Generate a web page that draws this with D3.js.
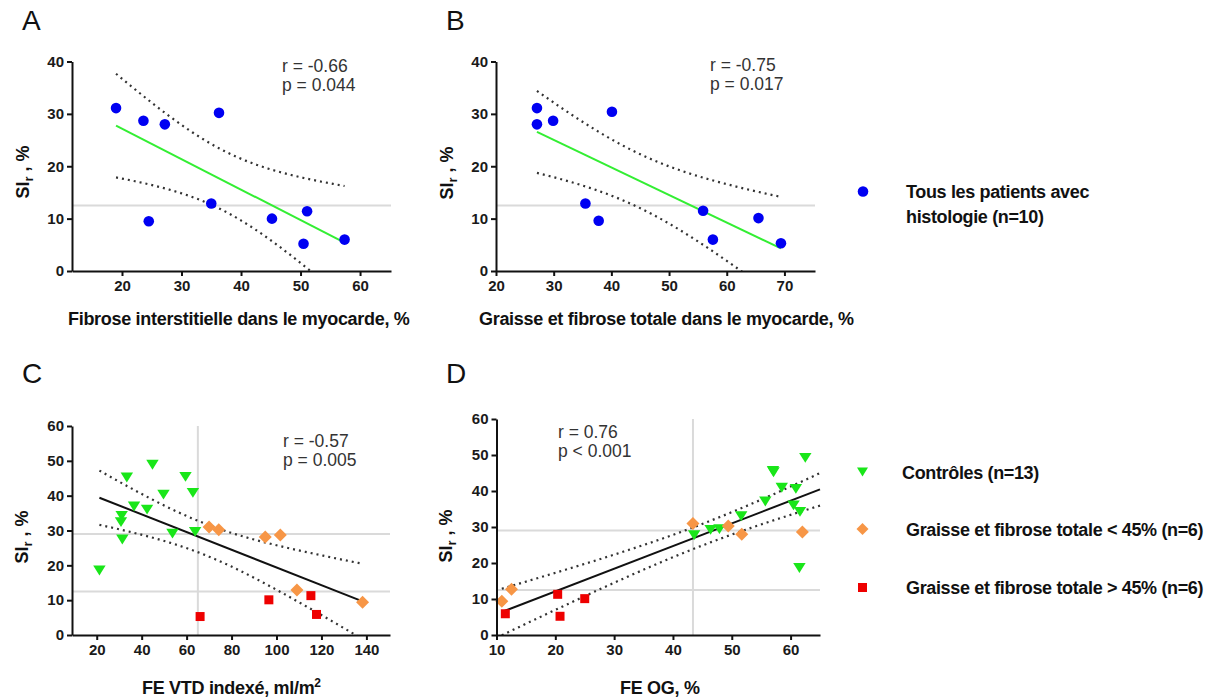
<!DOCTYPE html>
<html><head><meta charset="utf-8">
<script src="https://cdn.jsdelivr.net/npm/d3@7"></script>
<style>
body{margin:0;background:#fff}
svg text{font-family:"Liberation Sans",Arial,Helvetica,sans-serif}
</style>
</head><body>
<svg id="chart" width="1215" height="700"></svg>
<script>
// ---------------- DATA ----------------
// Panel A : fibrose interstitielle vs SIr (patients avec histologie)
const fibroseA = [19.0, 23.6, 27.2, 36.3, 35.0, 24.5, 45.2, 51.1, 50.5, 57.4];
const siA      = [31.1, 28.7, 28.0, 30.2, 12.9, 9.5, 10.0, 11.4, 5.2, 6.0];
// Panel B : graisse et fibrose totale vs SIr
const graisseB = [27.1, 29.9, 27.1, 40.1, 35.5, 37.8, 65.5, 55.9, 69.4, 57.6];
const siB      = [31.1, 28.7, 28.0, 30.4, 12.9, 9.6, 10.1, 11.5, 5.3, 6.0];
// Panel C : FE VTD indexé vs SIr
const ctrlVTD  = [21.2, 33.4, 44.8, 49.7, 36.6, 42.4, 31.1, 30.8, 31.4, 53.7, 59.5, 62.8, 63.8];
const ctrlSiC  = [18.5, 45.2, 48.9, 40.3, 36.9, 36.0, 34.2, 32.4, 27.4, 29.1, 45.4, 40.8, 29.6];
const lowVTD   = [70.0, 74.3, 95.0, 101.7, 109.1, 138.3];
const lowSiC   = [31.0, 30.2, 28.1, 28.7, 12.9, 9.4];
const highVTD  = [66.0, 96.6, 115.3, 117.8];
const highSiC  = [5.3, 10.1, 11.3, 5.9];
// Panel D : FE OG vs SIr
const ctrlOG   = [62.5, 57.0, 57.1, 58.5, 60.9, 55.7, 60.5, 61.6, 51.6, 46.4, 47.9, 43.6, 61.5];
const ctrlSiD  = [49.2, 45.6, 45.2, 40.9, 40.6, 37.1, 36.0, 34.2, 33.0, 29.2, 29.4, 27.7, 18.6];
const lowOG    = [10.9, 12.55, 43.4, 49.4, 51.7, 62.0];
const lowSiD   = [9.4, 12.7, 31.0, 30.3, 28.0, 28.6];
const highOG   = [11.5, 20.4, 20.8, 25.0];
const highSiD  = [5.9, 11.3, 5.2, 10.1];
// reference lines
const refSiA = [12.5];
const refSiC = [12.5, 29];
const refXC = [65];
const refXD = [43.4];
// tick values
const ticksYAB = [0, 10, 20, 30, 40];
const ticksYCD = [0, 10, 20, 30, 40, 50, 60];
const ticksXA = [20, 30, 40, 50, 60];
const ticksXB = [20, 30, 40, 50, 60, 70];
const ticksXC = [20, 40, 60, 80, 100, 120, 140];
const ticksXD = [10, 20, 30, 40, 50, 60];
// texts
const statsA = ["r = -0.66", "p = 0.044"];
const statsB = ["r = -0.75", "p = 0.017"];
const statsC = ["r = -0.57", "p = 0.005"];
const statsD = ["r = 0.76", "p < 0.001"];
const xTitles = ["Fibrose interstitielle dans le myocarde, %", "Graisse et fibrose totale dans le myocarde, %", "FE VTD indexé, ml/m", "FE OG, %"];
const legend1 = ["Tous les patients avec", "histologie (n=10)"];
const legend2 = ["Contrôles (n=13)", "Graisse et fibrose totale < 45% (n=6)", "Graisse et fibrose totale > 45% (n=6)"];

// ---------------- HELPERS ----------------
const svg = d3.select("#chart");
const COL = {blue:"#0000f2", green:"#19e619", orange:"#f79646", red:"#ee0000", fitGreen:"#33ee33"};
const tTable = {8:2.306, 9:2.262, 19:2.093, 20:2.086, 21:2.080, 22:2.074, 23:2.069};

function zip(xs, ys){ return xs.map((x,i)=>({x, y:ys[i]})); }
function fit(pts){
  const n = pts.length, mx = d3.mean(pts,d=>d.x), my = d3.mean(pts,d=>d.y);
  let sxx=0, sxy=0, syy=0;
  pts.forEach(p=>{ sxx+=(p.x-mx)**2; sxy+=(p.x-mx)*(p.y-my); syy+=(p.y-my)**2; });
  const b = sxy/sxx, a = my-b*mx;
  const s = Math.sqrt((syy-b*sxy)/(n-2));
  const t = tTable[n-2] || 2.0;
  return {a,b,s,n,mx,sxx,t};
}
const sym = {
  tri: r => `M${-r},${-r*0.8}L${r},${-r*0.8}L0,${r*0.8}Z`,
  dia: r => `M0,${-r}L${r},0L0,${r}L${-r},0Z`,
  sq:  r => `M${-r},${-r}L${r},${-r}L${r},${r}L${-r},${r}Z`
};

function panel(cfg){
  const g = svg.append("g");
  const x = d3.scaleLinear().domain(cfg.xDom).range(cfg.xR);
  const y = d3.scaleLinear().domain(cfg.yDom).range(cfg.yR);
  const clipId = "clip"+cfg.id;
  svg.append("clipPath").attr("id",clipId).append("rect")
     .attr("x",cfg.xR[0]).attr("y",cfg.yR[1]-4).attr("width",cfg.xR[1]-cfg.xR[0]+4).attr("height",cfg.yR[0]-cfg.yR[1]+4);
  // reference lines
  (cfg.refY||[]).forEach(v=>g.append("line").attr("x1",cfg.xR[0]).attr("x2",cfg.xR[1])
      .attr("y1",y(v)).attr("y2",y(v)).attr("stroke","#dadada").attr("stroke-width",2));
  (cfg.refX||[]).forEach(v=>g.append("line").attr("x1",x(v)).attr("x2",x(v))
      .attr("y1",cfg.yR[1]).attr("y2",cfg.yR[0]).attr("stroke","#dadada").attr("stroke-width",2));
  // regression + CI
  const all = [].concat(...cfg.groups.map(gr=>gr.pts));
  const f = fit(all);
  const x0 = d3.min(all,d=>d.x), x1 = cfg.lineToEnd ? cfg.xDom[1] : d3.max(all,d=>d.x);
  const xs = d3.range(0,61).map(i=>x0+(x1-x0)*i/60);
  const band = sgn => xs.map(v=>{
    const yh=f.a+f.b*v, h=f.t*f.s*Math.sqrt(1/f.n+(v-f.mx)**2/f.sxx);
    return [x(v), y(yh+sgn*h)];
  });
  const lg = g.append("g").attr("clip-path",`url(#${clipId})`);
  [1,-1].forEach(sg=>lg.append("path").attr("d",d3.line()(band(sg))).attr("fill","none")
      .attr("stroke","#333").attr("stroke-width",2.2).attr("stroke-dasharray","2,4"));
  lg.append("path").attr("d",d3.line()([[x(x0),y(f.a+f.b*x0)],[x(x1),y(f.a+f.b*x1)]]))
    .attr("stroke",cfg.fitColor).attr("stroke-width",2).attr("fill","none");
  // points
  cfg.groups.forEach(gr=>{
    g.append("g").selectAll("path").data(gr.pts).join("path")
     .attr("transform",d=>`translate(${x(d.x)},${y(d.y)})`)
     .attr("d", gr.shape==="circle" ? d3.symbol(d3.symbolCircle, Math.PI*5.3*5.3)() : sym[gr.shape](gr.r))
     .attr("fill",gr.color);
  });
  // axes
  const ax = g.append("g").attr("transform",`translate(0,${cfg.yR[0]})`)
     .call(d3.axisBottom(x).tickValues(cfg.xTicks).tickSize(5).tickSizeOuter(0).tickPadding(4));
  const ay = g.append("g").attr("transform",`translate(${cfg.xR[0]},0)`)
     .call(d3.axisLeft(y).tickValues(cfg.yTicks).tickSize(5).tickSizeOuter(0).tickPadding(3));
  [ax,ay].forEach(a=>{
    a.selectAll("path.domain").attr("stroke","#111").attr("stroke-width",2);
    a.selectAll(".tick line").attr("stroke","#111").attr("stroke-width",2);
    a.selectAll("text").attr("font-family","Liberation Sans, Arial, sans-serif")
      .attr("font-size",15).attr("font-weight","bold").attr("fill","#1a1a1a");
  });
  // stats text
  cfg.stats.forEach((s,i)=>g.append("text").attr("x",cfg.statPos[0]).attr("y",cfg.statPos[1]+i*18.5)
     .attr("font-size",17.5).attr("fill","#333").text(s));
  // panel letter
  g.append("text").attr("x",cfg.letterPos[0]).attr("y",cfg.letterPos[1]).attr("font-size",28)
     .attr("fill","#111").text(cfg.id);
  // x title
  const xt = g.append("text").attr("x",cfg.xTitlePos[0]).attr("y",cfg.xTitlePos[1])
     .attr("font-size",18).attr("font-weight","bold").attr("letter-spacing",-0.3).attr("fill","#111").text(cfg.xTitle);
  if(cfg.sup) xt.append("tspan").attr("font-size",12).attr("dy",-7).text(cfg.sup);
  // y title
  const yt = g.append("text").attr("transform",`translate(${cfg.yTitlePos[0]},${cfg.yTitlePos[1]}) rotate(-90)`)
     .attr("text-anchor","middle").attr("font-size",18).attr("font-weight","bold").attr("fill","#111");
  yt.append("tspan").text("SI");
  yt.append("tspan").attr("font-size",13).attr("dy",4).text("r");
  yt.append("tspan").attr("dy",-4).text(" , %");
}

panel({id:"A", xDom:[11.6,65.2], xR:[72,391], yDom:[0,40], yR:[271,61.5],
  xTicks:ticksXA, yTicks:ticksYAB, refY:refSiA, fitColor:COL.fitGreen,
  groups:[{pts:zip(fibroseA,siA), shape:"circle", color:COL.blue}],
  stats:statsA, statPos:[282,72], letterPos:[22,30], xTitle:xTitles[0], xTitlePos:[68,325], yTitlePos:[29,172]});
panel({id:"B", xDom:[20,75.3], xR:[496,815], yDom:[0,40], yR:[271,61.5],
  xTicks:ticksXB, yTicks:ticksYAB, refY:refSiA, fitColor:COL.fitGreen,
  groups:[{pts:zip(graisseB,siB), shape:"circle", color:COL.blue}],
  stats:statsB, statPos:[710,71], letterPos:[446,30], xTitle:xTitles[1], xTitlePos:[479,325], yTitlePos:[453,173]});
panel({id:"C", xDom:[9,150.5], xR:[72,390], yDom:[0,60], yR:[635,426],
  xTicks:ticksXC, yTicks:ticksYCD, refY:refSiC, refX:refXC, fitColor:"#111",
  groups:[{pts:zip(ctrlVTD,ctrlSiC), shape:"tri", r:6.2, color:COL.green},
          {pts:zip(lowVTD,lowSiC), shape:"dia", r:6.5, color:COL.orange},
          {pts:zip(highVTD,highSiC), shape:"sq", r:4.5, color:COL.red}],
  stats:statsC, statPos:[283,447], letterPos:[22,383], xTitle:xTitles[2], sup:"2", xTitlePos:[142,694], yTitlePos:[28,537]});
panel({id:"D", xDom:[10,65], xR:[496.5,820], yDom:[0,60], yR:[635,419], lineToEnd:true,
  xTicks:ticksXD, yTicks:ticksYCD, refY:refSiC, refX:refXD, fitColor:"#111",
  groups:[{pts:zip(ctrlOG,ctrlSiD), shape:"tri", r:6.2, color:COL.green},
          {pts:zip(lowOG,lowSiD), shape:"dia", r:6.5, color:COL.orange},
          {pts:zip(highOG,highSiD), shape:"sq", r:4.5, color:COL.red}],
  stats:statsD, statPos:[558,438], letterPos:[446,383], xTitle:xTitles[3], xTitlePos:[620,694], yTitlePos:[452,536]});

// ---------------- LEGENDS ----------------
const lg = svg.append("g");
lg.append("circle").attr("cx",863).attr("cy",191.5).attr("r",5.3).attr("fill",COL.blue);
legend1.forEach((t,i)=>lg.append("text").attr("x",906).attr("y",198+i*25)
   .attr("font-size",18).attr("font-weight","bold").attr("letter-spacing",-0.35).attr("fill","#111").text(t));
const leg2Shapes = [{s:"tri",r:5.5,c:COL.green,y:472},{s:"dia",r:6,c:COL.orange,y:529},{s:"sq",r:4.5,c:COL.red,y:587.5}];
const leg2X = [902, 906, 906];
leg2Shapes.forEach((m,i)=>{
  lg.append("path").attr("transform",`translate(862.5,${m.y})`).attr("d",sym[m.s](m.r)).attr("fill",m.c);
  lg.append("text").attr("x",leg2X[i]).attr("y",m.y+6.5)
    .attr("font-size",18).attr("font-weight","bold").attr("letter-spacing",-0.35).attr("fill","#111").text(legend2[i]);
});
</script>
</body></html>
